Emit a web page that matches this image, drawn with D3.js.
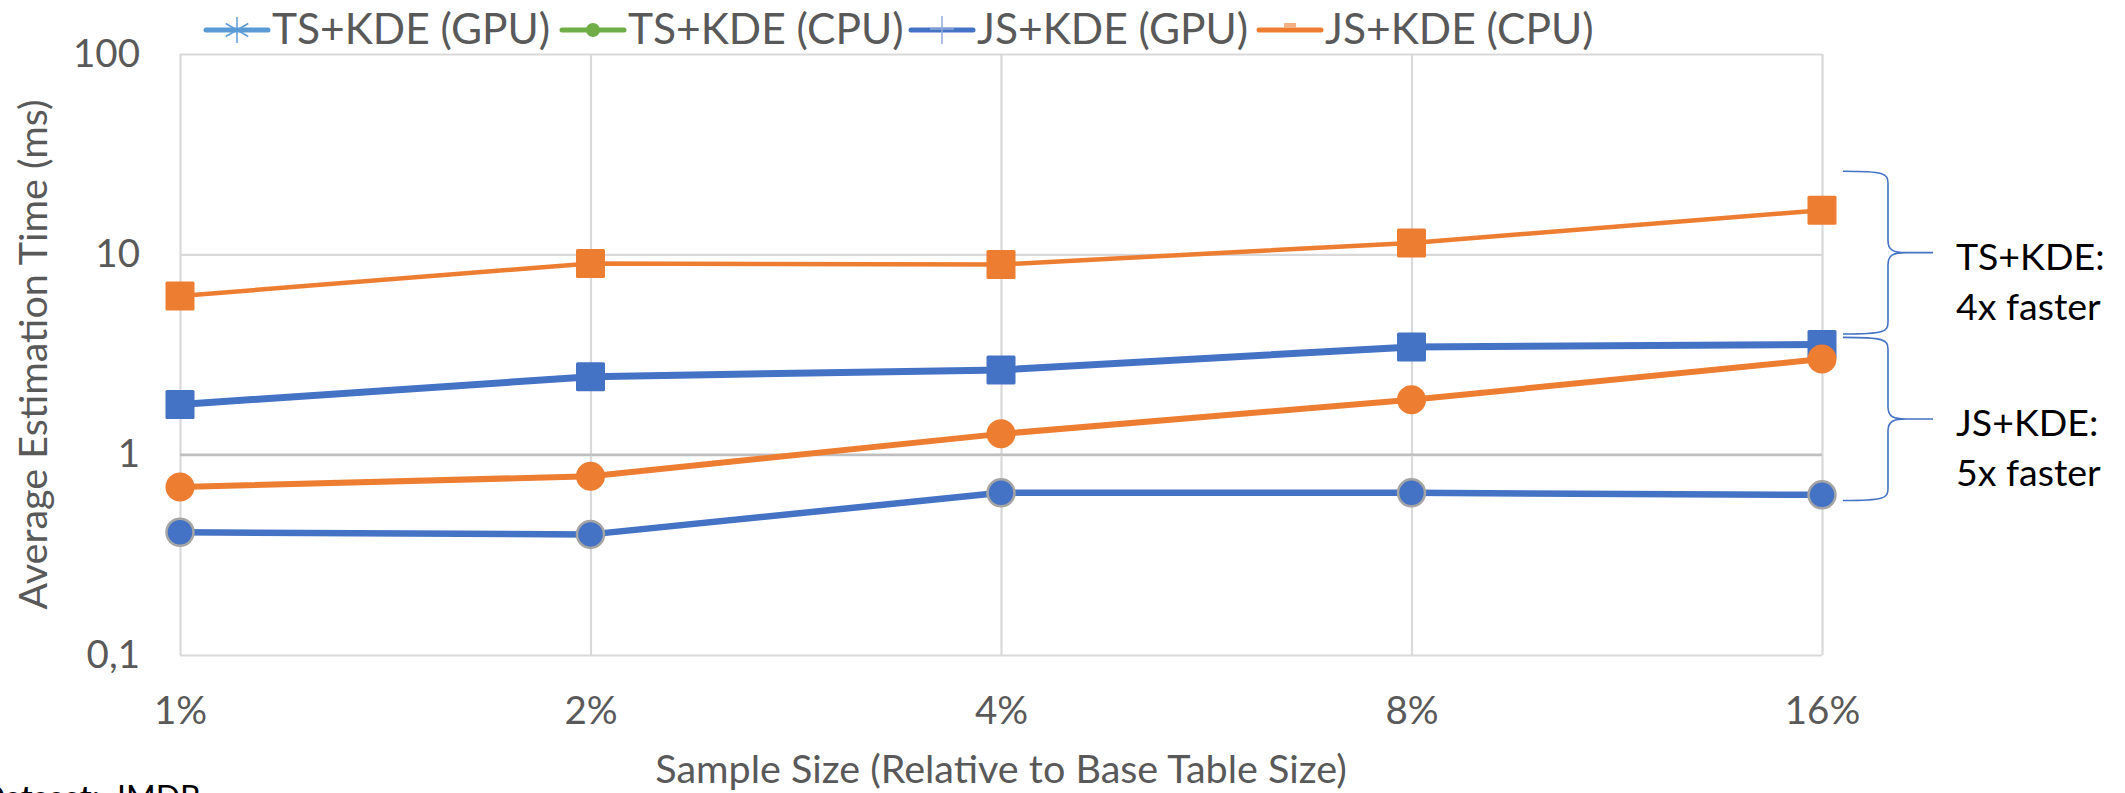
<!DOCTYPE html>
<html>
<head>
<meta charset="utf-8">
<script src="https://cdn.jsdelivr.net/npm/d3@7"></script>
<style>
  html, body { margin: 0; padding: 0; background: #ffffff; }
  svg { display: block; font-family: Lato, "Noto Sans", sans-serif; }
</style>
</head>
<body>
<svg id="chart" width="2125" height="793"></svg>
<script>
// Sample sizes on the x axis
const categories = ["1%", "2%", "4%", "8%", "16%"];

// Average estimation time (ms) per sample size
const orangeSquareMs = [6.2, 9.0, 8.9, 11.4, 16.6];
const blueSquareMs   = [1.78, 2.45, 2.65, 3.45, 3.55];
const orangeCircleMs = [0.69, 0.78, 1.27, 1.88, 3.0];
const blueCircleMs   = [0.41, 0.40, 0.645, 0.645, 0.63];

// Log axis ticks and their printed labels
const yTickValues = [0.1, 1, 10, 100];
const yTickLabels = ["0,1", "1", "10", "100"];

// Legend entries
const legendLabels = ["TS+KDE (GPU)", "TS+KDE (CPU)", "JS+KDE (GPU)", "JS+KDE (CPU)"];

// Speed-up annotations: bracket span (ms, top..bottom) and text lines
const braceSpans = [[26, 4], [3.85, 0.59]];
const braceTexts = [["TS+KDE:", "4x faster"], ["JS+KDE:", "5x faster"]];

const C = {
  orange: "#ED7D31",
  blue: "#4472C4",
  lightBlue: "#5B9BD5",
  green: "#70AD47",
  grid: "#D9D9D9",
  axis: "#BFBFBF",
  text: "#595959",
  markerEdge: "#A5A5A5"
};

const svg = d3.select("#chart");
const plotLeft = 180, plotRight = 1822, plotTop = 54, plotBottom = 655;

const x = d3.scalePoint().domain(categories).range([plotLeft, plotRight]);
const y = d3.scaleLog().domain([0.1, 100]).range([plotBottom, plotTop]);

// Horizontal gridlines + y tick labels
const yAxis = svg.append("g")
  .attr("transform", `translate(${plotLeft},0)`)
  .call(d3.axisLeft(y)
    .tickValues(yTickValues)
    .tickFormat((d, i) => yTickLabels[i])
    .tickSize(-(plotRight - plotLeft))
    .tickPadding(40));
yAxis.select(".domain").remove();
yAxis.selectAll(".tick line")
  .attr("stroke", d => d === 1 ? C.axis : C.grid)
  .attr("stroke-width", 2.2);
yAxis.selectAll(".tick text")
  .attr("fill", C.text)
  .attr("font-family", "Lato, sans-serif")
  .attr("font-size", 38.5);

// Vertical gridlines + x tick labels
const xAxis = svg.append("g")
  .attr("transform", `translate(0,${plotBottom})`)
  .call(d3.axisBottom(x)
    .tickSize(-(plotBottom - plotTop))
    .tickPadding(42));
xAxis.select(".domain").remove();
xAxis.selectAll(".tick line")
  .attr("stroke", C.grid)
  .attr("stroke-width", 2.2);
xAxis.selectAll(".tick text")
  .attr("fill", C.text)
  .attr("font-family", "Lato, sans-serif")
  .attr("font-size", 38.5);

// Redraw the value-1 axis line on top of the vertical gridlines
svg.append("line")
  .attr("x1", plotLeft).attr("x2", plotRight)
  .attr("y1", y(1)).attr("y2", y(1))
  .attr("stroke", C.axis).attr("stroke-width", 2.2);

// Axis titles
svg.append("text")
  .attr("x", (plotLeft + plotRight) / 2).attr("y", 783)
  .attr("text-anchor", "middle")
  .attr("fill", C.text).attr("font-size", 39.5)
  .text("Sample Size (Relative to Base Table Size)");

svg.append("text")
  .attr("transform", `translate(47,${(plotTop + plotBottom) / 2}) rotate(-90)`)
  .attr("text-anchor", "middle")
  .attr("fill", C.text).attr("font-size", 39.5)
  .text("Average Estimation Time (ms)");

// Series
const series = [
  { values: orangeSquareMs, color: C.orange, width: 4.5, shape: "square" },
  { values: blueSquareMs,   color: C.blue,   width: 7,   shape: "square" },
  { values: orangeCircleMs, color: C.orange, width: 6,   shape: "circle" },
  { values: blueCircleMs,   color: C.blue,   width: 6.5, shape: "circle", edge: C.markerEdge }
];

const line = d3.line()
  .x((d, i) => x(categories[i]))
  .y(d => y(d));

series.forEach(s => {
  const g = svg.append("g");
  g.append("path")
    .datum(s.values)
    .attr("d", line)
    .attr("fill", "none")
    .attr("stroke", s.color)
    .attr("stroke-width", s.width)
    .attr("stroke-linejoin", "round");
  const pts = s.values.map((v, i) => ({ cx: x(categories[i]), cy: y(v) }));
  if (s.shape === "square") {
    const size = 29;
    g.selectAll("rect").data(pts).join("rect")
      .attr("x", d => d.cx - size / 2)
      .attr("y", d => d.cy - size / 2)
      .attr("width", size).attr("height", size)
      .attr("rx", 1.5)
      .attr("fill", s.color);
  } else {
    g.selectAll("circle").data(pts).join("circle")
      .attr("cx", d => d.cx).attr("cy", d => d.cy)
      .attr("r", s.edge ? 13.5 : 14.5)
      .attr("fill", s.color)
      .attr("stroke", s.edge || "none")
      .attr("stroke-width", s.edge ? 2.5 : 0);
  }
});

// Legend
const legend = svg.append("g").attr("font-size", 42.5).attr("fill", C.text);
const legendX = [206, 562, 911, 1259];
const legendLineY = 30;
const legendColors = [C.lightBlue, C.green, C.blue, C.orange];
legendLabels.forEach((label, i) => {
  const x0 = legendX[i], x1 = x0 + 62, xc = (x0 + x1) / 2;
  const g = legend.append("g");
  g.append("line")
    .attr("x1", x0).attr("x2", x1)
    .attr("y1", legendLineY).attr("y2", legendLineY)
    .attr("stroke", legendColors[i]).attr("stroke-width", 5)
    .attr("stroke-linecap", "round");
  if (i === 0) {
    // asterisk marker
    const r = 13;
    [90, 30, 150].forEach(a => {
      const rad = a * Math.PI / 180;
      g.append("line")
        .attr("x1", xc - r * Math.cos(rad)).attr("y1", legendLineY - r * Math.sin(rad))
        .attr("x2", xc + r * Math.cos(rad)).attr("y2", legendLineY + r * Math.sin(rad))
        .attr("stroke", legendColors[i]).attr("stroke-width", 1.5);
    });
  } else if (i === 1) {
    g.append("circle").attr("cx", xc).attr("cy", legendLineY).attr("r", 7)
      .attr("fill", legendColors[i]);
  } else if (i === 2) {
    g.append("line")
      .attr("x1", xc).attr("x2", xc)
      .attr("y1", legendLineY - 14).attr("y2", legendLineY + 14)
      .attr("stroke", "#8FAADC").attr("stroke-width", 1.5);
    g.append("line")
      .attr("x1", xc - 12).attr("x2", xc + 12)
      .attr("y1", legendLineY - 1).attr("y2", legendLineY - 1)
      .attr("stroke", "#8FAADC").attr("stroke-width", 1.5);
  } else {
    g.append("rect").attr("x", xc - 6).attr("y", legendLineY - 7)
      .attr("width", 12).attr("height", 5)
      .attr("fill", "#F4B183");
  }
  g.append("text")
    .attr("x", x1 + 4).attr("y", 44)
    .text(label);
});

// Curly brackets with speed-up notes
const braceLeft = 1843, braceSpine = 1888, braceTip = 1933;
braceSpans.forEach((span, i) => {
  const y0 = y(span[0]), y1 = y(span[1]);
  const ym = (y0 + y1) / 2;
  const p = d3.path();
  p.moveTo(braceLeft, y0);
  p.bezierCurveTo(braceSpine - 4, y0, braceSpine, y0 + 2, braceSpine, y0 + 12);
  p.lineTo(braceSpine, ym - 12);
  p.bezierCurveTo(braceSpine, ym - 2, braceSpine + 6, ym, braceSpine + 18, ym);
  p.lineTo(braceTip, ym);
  p.moveTo(braceSpine + 18, ym);
  p.bezierCurveTo(braceSpine + 6, ym, braceSpine, ym + 2, braceSpine, ym + 12);
  p.lineTo(braceSpine, y1 - 12);
  p.bezierCurveTo(braceSpine, y1 - 2, braceSpine - 4, y1, braceLeft, y1);
  svg.append("path")
    .attr("d", p.toString())
    .attr("fill", "none")
    .attr("stroke", C.blue)
    .attr("stroke-width", 1.6);

  const t = svg.append("text")
    .attr("x", 1956).attr("y", ym + 17)
    .attr("fill", "#000000").attr("font-size", 37.5);
  braceTexts[i].forEach((s, k) => {
    t.append("tspan").attr("x", 1956).attr("dy", k === 0 ? 0 : 50).text(s);
  });
});

// Dataset caption along the bottom edge
const caption = svg.append("g").attr("fill", "#000000").attr("font-size", 32);
caption.append("text")
  .attr("x", 100).attr("y", 809)
  .attr("text-anchor", "end")
  .attr("font-weight", "bold")
  .text("Dataset:");
caption.append("text")
  .attr("x", 117).attr("y", 809)
  .text("IMDB");
</script>
</body>
</html>
